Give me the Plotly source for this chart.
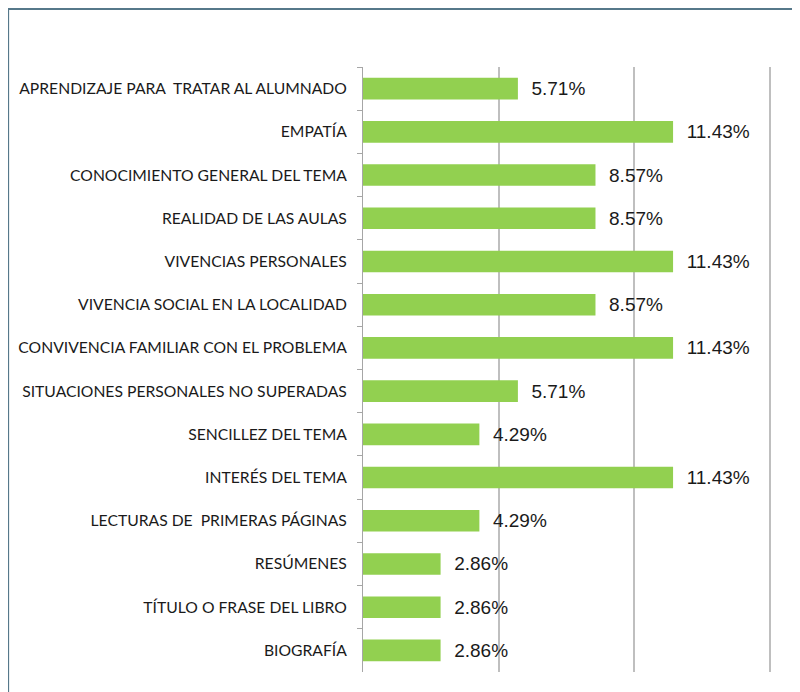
import plotly.graph_objects as go

categorias=['APRENDIZAJE PARA  TRATAR AL ALUMNADO','EMPATÍA','CONOCIMIENTO GENERAL DEL TEMA',
            'REALIDAD DE LAS AULAS','VIVENCIAS PERSONALES','VIVENCIA SOCIAL EN LA LOCALIDAD',
            'CONVIVENCIA FAMILIAR CON EL PROBLEMA','SITUACIONES PERSONALES NO SUPERADAS',
            'SENCILLEZ DEL TEMA','INTERÉS DEL TEMA','LECTURAS DE  PRIMERAS PÁGINAS',
            'RESÚMENES','TÍTULO O FRASE DEL LIBRO','BIOGRAFÍA']
porcentajes=[5.71,11.43,8.57,8.57,11.43,8.57,11.43,5.71,4.29,11.43,4.29,2.86,2.86,2.86]

etiquetas=['\u00a0\u00a0'+'{:.2f}%'.format(v) for v in porcentajes]

fig=go.Figure(go.Bar(x=porcentajes,
                     y=categorias,
                     orientation='h',
                     marker={'color':'#92D050','line_width':0},
                     text=etiquetas,
                     textposition='outside',
                     constraintext='none',
                     cliponaxis=False,
                     textfont={'family':'Liberation Sans, Arial','size':19,'color':'#1a1a1a'},
                     hoverinfo='none'))

# marco exterior (solo se ven los lados superior e izquierdo)
fig.add_shape(type='rect',xref='paper',yref='paper',
              x0=-0.8698,x1=1.3,y0=-0.2,y1=1.0959,
              line={'color':'#56788a','width':2},layer='below')

fig.update_layout(width=800,height=692,
                  plot_bgcolor='white',paper_bgcolor='white',
                  bargap=0.5,
                  showlegend=False,
                  margin={'l':355,'r':37,'t':59,'b':28,'autoexpand':False},
                  font={'family':'Lato','color':'#1a1a1a'},
                  xaxis={'range':[0,15.04],'tickvals':[5,10,15],'showgrid':True,'gridcolor':'#BFBFBF','gridwidth':1.5,
                         'showticklabels':False,'zeroline':False,'showline':False,'ticks':''},
                  yaxis={'type':'category','autorange':'reversed','tickson':'boundaries',
                         'ticks':'outside','ticklen':5,'tickcolor':'#A6A6A6','tickwidth':1,
                         'showline':True,'linecolor':'#A6A6A6','linewidth':1,
                         'showgrid':False,'tickfont':{'family':'Lato','size':15.7,'color':'#1a1a1a'},
                         'ticklabelstandoff':12})

fig.write_html('out.html')
